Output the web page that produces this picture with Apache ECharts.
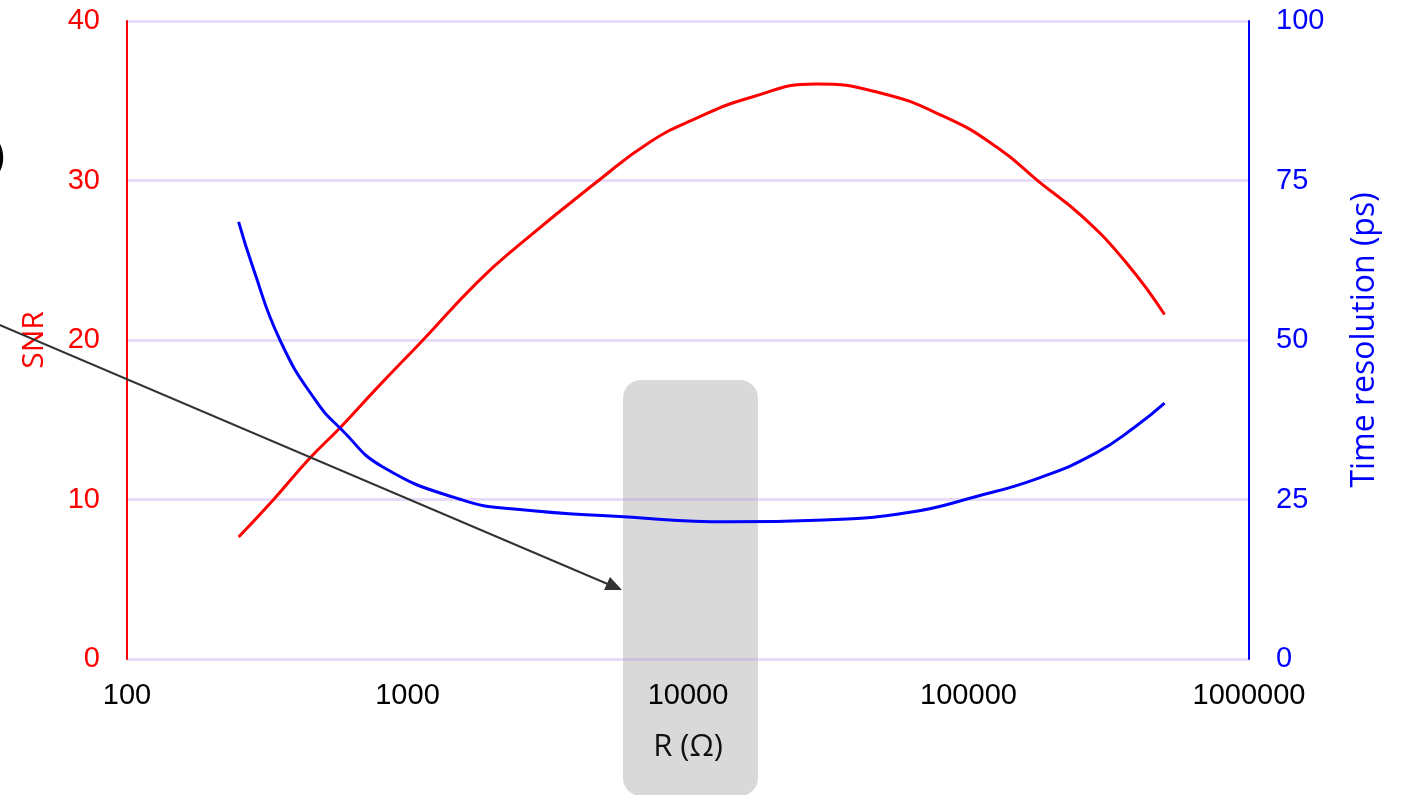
<!DOCTYPE html>
<html><head><meta charset="utf-8">
<script src="https://cdn.jsdelivr.net/npm/echarts@6/dist/echarts.min.js"></script>
<style>html,body{margin:0;padding:0;background:#fff}#c{width:1404px;height:795px}</style>
</head><body><div id="c"></div>
<script>
const xTicks = [100, 1000, 10000, 100000, 1000000];
const snrR = [250, 332, 449, 575, 779, 1136, 1769, 2500, 4800, 7300, 10400, 16700, 28500, 48200, 82000, 126000, 179000, 256000, 367000, 500000];
const snrValues = [7.65, 9.97, 12.6, 14.5, 17.0, 20.0, 23.6, 25.96, 30.0, 32.4, 33.8, 35.2, 36.05, 35.5, 34.0, 32.1, 29.9, 27.7, 24.8, 21.6];
const trR = [250, 281, 351, 469, 584, 817, 1576, 2400, 5900, 13900, 30600, 61800, 105000, 179000, 285000, 393000, 500000];
const trValues = [68.5, 61.4, 50.0, 40.6, 35.9, 30.1, 24.9, 23.5, 22.3, 21.5, 21.8, 23.0, 25.4, 28.4, 32.3, 36.4, 40.1];

const chart = echarts.init(document.getElementById('c'));
const tickFont = 'Liberation Sans, Arial, sans-serif';
const nameFont = 'Open Sans, sans-serif';
const gridColor = 'rgba(190,160,240,0.38)';
chart.setOption({
  animation: false,
  grid: {left: 127, right: 155, top: 21, bottom: 136},
  xAxis: {
    type: 'log', logBase: 10, min: 100, max: 1000000,
    axisLine: {show: false}, axisTick: {show: false},
    splitLine: {show: false},
    axisLabel: {color: '#000', fontSize: 29, fontFamily: tickFont, margin: 22,
      formatter: v => String(Math.round(v))},
    name: 'R (Ω)', nameLocation: 'middle', nameGap: 73,
    nameTextStyle: {color: '#111', fontSize: 31, fontFamily: nameFont}
  },
  yAxis: [{
    type: 'value', min: 0, max: 40, interval: 10,
    axisLine: {show: true, lineStyle: {color: '#ff0000', width: 2}},
    axisTick: {show: false},
    splitLine: {show: true, lineStyle: {color: gridColor, width: 3}},
    axisLabel: {color: '#ff0000', fontSize: 29, fontFamily: tickFont, margin: 27},
    name: 'SNR', nameLocation: 'middle', nameGap: 78,
    nameTextStyle: {color: '#ff0000', fontSize: 30, fontFamily: nameFont}
  }, {
    type: 'value', min: 0, max: 100, interval: 25, position: 'right',
    axisLine: {show: true, lineStyle: {color: '#0000ff', width: 2}},
    axisTick: {show: false},
    splitLine: {show: false},
    axisLabel: {color: '#0000ff', fontSize: 29, fontFamily: tickFont, margin: 27},
    name: 'Time resolution (ps)', nameLocation: 'middle', nameGap: 100,
    nameTextStyle: {color: '#0000ff', fontSize: 32, fontFamily: nameFont}
  }],
  graphic: [
    {type: 'rect', z: -10, shape: {x: 623, y: 380, width: 135, height: 416, r: 18},
     style: {fill: '#d9d9d9'}},
    {type: 'line', z: 100, shape: {x1: -40, y1: 308, x2: 610, y2: 585},
     style: {stroke: '#333', lineWidth: 2}},
    {type: 'polygon', z: 100, shape: {points: [[622, 590], [604, 590], [610, 577]]},
     style: {fill: '#333'}},
    {type: 'text', z: 100, x: -7, y: 138,
     style: {text: ')', fontSize: 40, fill: '#000', fontFamily: nameFont}}
  ],
  series: [{
    type: 'line', yAxisIndex: 0, smooth: true, showSymbol: false,
    data: snrR.map((r, i) => [r, snrValues[i]]),
    lineStyle: {color: '#ff0000', width: 3}, itemStyle: {color: '#ff0000'}
  }, {
    type: 'line', yAxisIndex: 1, smooth: true, showSymbol: false,
    data: trR.map((r, i) => [r, trValues[i]]),
    lineStyle: {color: '#0000ff', width: 3}, itemStyle: {color: '#0000ff'}
  }]
});
</script></body></html>
